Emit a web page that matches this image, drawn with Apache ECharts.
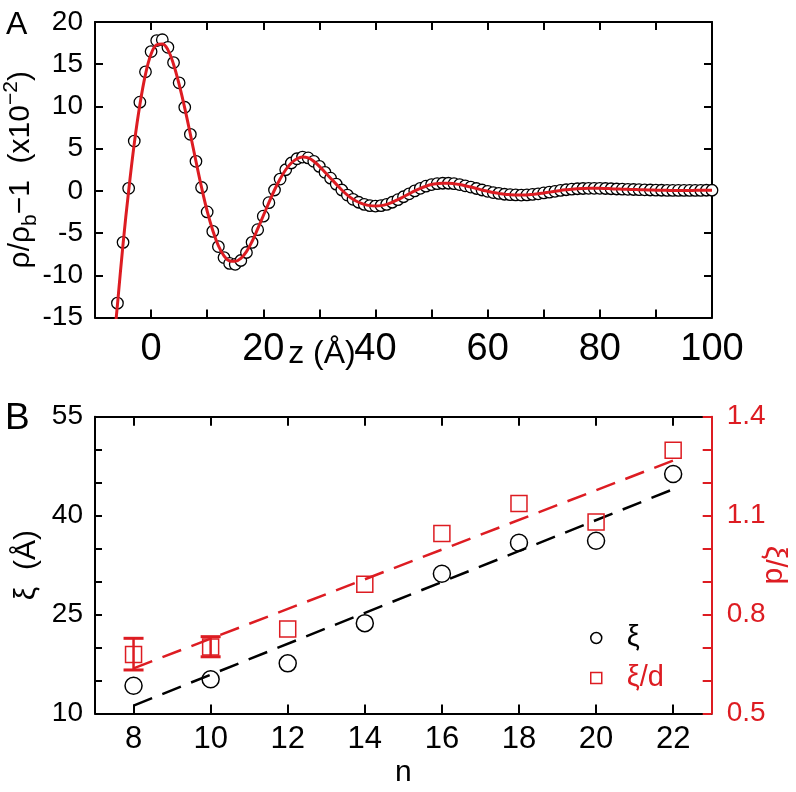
<!DOCTYPE html>
<html><head><meta charset="utf-8">
<script src="https://cdn.jsdelivr.net/npm/echarts@6/dist/echarts.min.js"></script>
<style>html,body{margin:0;padding:0;background:#fff}#c{width:796px;height:792px}</style>
</head><body><div id="c"></div><script>
// ---------- Panel A data ----------
const zA = [-6,-5,-4,-3,-2,-1,0,1,2,3,4,5,6,7,8,9,10,11,12,13,14,15,16,17,18,19,20,21,22,23,24,25,26,27,28,29,30,31,32,33,34,35,36,37,38,39,40,41,42,43,44,45,46,47,48,49,50,51,52,53,54,55,56,57,58,59,60,61,62,63,64,65,66,67,68,69,70,71,72,73,74,75,76,77,78,79,80,81,82,83,84,85,86,87,88,89,90,91,92,93,94,95,96,97,98,99,100];
const rhoA = [-13.3,-6.1,0.3,5.9,10.5,14.1,16.5,17.8,17.9,17.0,15.2,12.8,9.9,6.7,3.5,0.4,-2.5,-4.8,-6.6,-7.9,-8.6,-8.7,-8.25,-7.3,-6.1,-4.6,-3.0,-1.4,0.1,1.4,2.5,3.3,3.8,4.0,3.9,3.5,2.9,2.2,1.5,0.8,0.1,-0.5,-1.0,-1.35,-1.6,-1.75,-1.8,-1.75,-1.6,-1.35,-1.05,-0.7,-0.35,0.0,0.3,0.55,0.75,0.85,0.9,0.9,0.85,0.75,0.6,0.45,0.28,0.1,-0.05,-0.2,-0.3,-0.4,-0.45,-0.48,-0.5,-0.48,-0.42,-0.35,-0.25,-0.15,-0.05,0.05,0.13,0.2,0.25,0.28,0.3,0.3,0.3,0.28,0.25,0.22,0.2,0.18,0.16,0.14,0.12,0.1,0.08,0.07,0.06,0.05,0.05,0.05,0.05,0.06,0.06,0.07,0.07];
const fitZ = [-7,-6,-5,-4,-3,-2,-1,0,1,2,3,4,5,6,7,8,9,10,11,12,13,14,15,16,17,18,19,20,21,22,23,24,25,26,27,28,29,30,31,32,33,34,35,36,37,38,39,40,41,42,43,44,45,46,47,48,49,50,51,52,53,54,55,56,57,58,59,60,61,62,63,64,65,66,67,68,69,70,71,72,73,74,75,76,77,78,79,80,81,82,83,84,85,86,87,88,89,90,91,92,93,94,95,96,97,98,99,100];
const fitRho = [-20.5,-13.5,-6.3,0.0,5.6,10.2,13.8,16.2,17.3,17.4,16.7,15.0,12.6,9.8,6.7,3.5,0.4,-2.4,-4.7,-6.5,-7.7,-8.3,-8.35,-8.0,-7.2,-6.0,-4.5,-2.95,-1.4,0.1,1.4,2.5,3.3,3.8,4.0,3.9,3.5,2.9,2.2,1.5,0.8,0.1,-0.5,-1.0,-1.35,-1.6,-1.75,-1.8,-1.75,-1.6,-1.35,-1.05,-0.7,-0.35,0.0,0.3,0.55,0.75,0.85,0.9,0.9,0.85,0.75,0.6,0.45,0.28,0.1,-0.05,-0.2,-0.3,-0.4,-0.45,-0.48,-0.5,-0.48,-0.42,-0.35,-0.25,-0.15,-0.05,0.05,0.13,0.2,0.25,0.28,0.3,0.3,0.3,0.28,0.25,0.22,0.2,0.18,0.16,0.14,0.12,0.1,0.08,0.07,0.06,0.05,0.05,0.05,0.05,0.06,0.06,0.07,0.07];

// ---------- Panel B data ----------
const nB = [8,10,12,14,16,18,20,22];
const xiB = [14.2,15.2,17.6,23.7,31.2,35.9,36.2,46.3];
const xidB = [0.679,0.702,0.756,0.892,1.046,1.137,1.081,1.298];
const errN = [8,10];
const errLow = [0.632,0.672];
const errHigh = [0.728,0.733];
const fitN = [8,22];
const fitXi = [11.2,44.0];
const fitXid = [0.637,1.267];
const xTicksB = [8,10,12,14,16,18,20,22];
const yRightTicksB = [0.5,0.6,0.7,0.8,0.9,1.0,1.1,1.2,1.3,1.4];
const yRightLabelsB = [0.5,0.8,1.1,1.4];

const RED = '#dd1c22';
const FONT = 'Liberation Sans';
const pair = (xs, ys) => xs.map((x, i) => [x, ys[i]]);

const chart = echarts.init(document.getElementById('c'), null, {renderer: 'canvas'});

const axLine = (c) => ({show: true, onZero: false, lineStyle: {color: c || '#000', width: 2}});
const tickIn = (len, c) => ({show: true, inside: true, length: len, lineStyle: {color: c || '#000', width: 2}});

const option = {
  animation: false,
  backgroundColor: '#fff',
  grid: [
    {left: 95, top: 22, width: 617, height: 295.5, outerBoundsMode: 'none'},
    {left: 95, top: 416.7, width: 616.7, height: 296.8, outerBoundsMode: 'none'}
  ],
  graphic: [
    {type: 'text', left: 6, top: 9, style: {text: 'A', font: '32px ' + FONT, fill: '#000'}},
    {type: 'text', left: 5, top: 400, style: {text: 'B', font: '37px ' + FONT, fill: '#000'}}
  ],
  xAxis: [
    {gridIndex: 0, type: 'value', position: 'bottom', min: -10, max: 100, interval: 10,
     axisLine: axLine(), axisTick: tickIn(8), splitLine: {show: false},
     axisLabel: {formatter: v => (v % 20 === 0 ? String(v) : ''), fontFamily: FONT, fontSize: 38, color: '#000', margin: 13},
     name: 'z (Å)', nameLocation: 'middle', nameGap: 21, nameMoveOverlap: false,
     nameTextStyle: {fontFamily: FONT, fontSize: 32, color: '#000', padding: [0, 163, 0, 0]}},
    {gridIndex: 0, type: 'value', position: 'top', min: -10, max: 100, interval: 10,
     axisLine: axLine(), axisTick: tickIn(8), axisLabel: {show: false}, splitLine: {show: false}},
    {gridIndex: 1, type: 'value', position: 'bottom', min: 7, max: 23,
     axisLine: axLine(), axisTick: Object.assign(tickIn(9), {customValues: xTicksB}), splitLine: {show: false},
     axisLabel: {customValues: xTicksB, fontFamily: FONT, fontSize: 31, color: '#000', margin: 10},
     name: 'n', nameLocation: 'middle', nameGap: 44, nameMoveOverlap: false,
     nameTextStyle: {fontFamily: FONT, fontSize: 30, color: '#000'}},
    {gridIndex: 1, type: 'value', position: 'top', min: 7, max: 23,
     axisLine: axLine(), axisTick: Object.assign(tickIn(9), {customValues: xTicksB}),
     axisLabel: {show: false}, splitLine: {show: false}}
  ],
  yAxis: [
    {gridIndex: 0, type: 'value', position: 'left', min: -15, max: 20, interval: 5,
     axisLine: axLine(), axisTick: tickIn(8), splitLine: {show: false},
     axisLabel: {fontFamily: FONT, fontSize: 28, color: '#000', margin: 12},
     name: '{t|ρ/ρ}{s|b}{t|−1  (x10}{p|−2}{t|)}', nameLocation: 'middle', nameGap: 54, nameMoveOverlap: false,
     nameTextStyle: {color: '#000', rich: {
       t: {fontFamily: FONT, fontSize: 30, lineHeight: 40, color: '#000'},
       s: {fontFamily: FONT, fontSize: 21, color: '#000', verticalAlign: 'bottom'},
       p: {fontFamily: FONT, fontSize: 21, color: '#000', verticalAlign: 'top'}
     }}},
    {gridIndex: 0, type: 'value', position: 'right', min: -15, max: 20, interval: 5,
     axisLine: axLine(), axisTick: tickIn(8), axisLabel: {show: false}, splitLine: {show: false}},
    {gridIndex: 1, type: 'value', position: 'left', min: 10, max: 55, interval: 5,
     axisLine: axLine(), axisTick: tickIn(7), splitLine: {show: false},
     axisLabel: {formatter: v => ((v - 10) % 15 === 0 ? String(v) : ''), fontFamily: FONT, fontSize: 28, color: '#000', margin: 12},
     name: 'ξ  (Å)', nameLocation: 'middle', nameGap: 53, nameMoveOverlap: false,
     nameTextStyle: {fontFamily: FONT, fontSize: 30, color: '#000'}},
    {gridIndex: 1, type: 'value', position: 'right', min: 0.5, max: 1.4, z: 5,
     axisLine: axLine(RED), axisTick: Object.assign(tickIn(9, RED), {customValues: yRightTicksB}), splitLine: {show: false},
     axisLabel: {customValues: yRightLabelsB, formatter: v => Number(v).toFixed(1), fontFamily: FONT, fontSize: 28, color: RED, margin: 15},
     name: 'ξ/d', nameLocation: 'middle', nameGap: 48, nameRotate: -90, nameMoveOverlap: false,
     nameTextStyle: {fontFamily: FONT, fontSize: 30, color: RED}}
  ],
  legend: [
    {data: [{name: 'ξ', textStyle: {color: '#000'}}], left: 585, top: 618, orient: 'vertical',
     icon: 'circle', itemWidth: 11, itemHeight: 11, selectedMode: false,
     itemStyle: {color: 'transparent', borderColor: '#000', borderWidth: 1.5},
     textStyle: {fontFamily: FONT, fontSize: 29, lineHeight: 30, padding: [0, 0, 0, 20]}},
    {data: [{name: 'ξ/d', textStyle: {color: RED}}], left: 585, top: 658, orient: 'vertical',
     icon: 'rect', itemWidth: 11, itemHeight: 11, selectedMode: false,
     itemStyle: {color: 'transparent', borderColor: RED, borderWidth: 1.5},
     textStyle: {fontFamily: FONT, fontSize: 29, lineHeight: 30, padding: [0, 0, 0, 20]}}
  ],
  series: [
    {name: 'data A', type: 'scatter', xAxisIndex: 0, yAxisIndex: 0, data: pair(zA, rhoA),
     symbol: 'circle', symbolSize: 11.5, z: 2,
     itemStyle: {color: '#fff', borderColor: '#000', borderWidth: 1.3, opacity: 1}},
    {name: 'fit A', type: 'line', xAxisIndex: 0, yAxisIndex: 0, data: pair(fitZ, fitRho),
     showSymbol: false, smooth: 0.4, clip: true, z: 3,
     lineStyle: {color: RED, width: 3}},
    {name: 'fit ξ', type: 'line', xAxisIndex: 2, yAxisIndex: 2, data: pair(fitN, fitXi),
     showSymbol: false, z: 2, lineStyle: {color: '#000', width: 2.5, type: [20, 11]}},
    {name: 'fit ξ/d', type: 'line', xAxisIndex: 2, yAxisIndex: 3, data: pair(fitN, fitXid),
     showSymbol: false, z: 2, lineStyle: {color: RED, width: 2.5, type: [20, 11]}},
    {name: 'ξ', type: 'scatter', xAxisIndex: 2, yAxisIndex: 2, data: pair(nB, xiB),
     symbol: 'circle', symbolSize: 17, z: 3,
     itemStyle: {color: 'transparent', borderColor: '#000', borderWidth: 1.5, opacity: 1}},
    {name: 'ξ/d', type: 'scatter', xAxisIndex: 2, yAxisIndex: 3, data: pair(nB, xidB),
     symbol: 'rect', symbolSize: 16, z: 3,
     itemStyle: {color: 'transparent', borderColor: RED, borderWidth: 1.5, opacity: 1}},
    {name: 'err', type: 'custom', xAxisIndex: 2, yAxisIndex: 3,
     data: errN.map((n, i) => [n, errLow[i], errHigh[i]]), z: 4,
     renderItem: function (params, api) {
       const p1 = api.coord([api.value(0), api.value(1)]);
       const p2 = api.coord([api.value(0), api.value(2)]);
       const w = 10;
       const st = {stroke: RED, lineWidth: 3};
       return {type: 'group', children: [
         {type: 'line', shape: {x1: p1[0], y1: p1[1], x2: p2[0], y2: p2[1]}, style: {stroke: RED, lineWidth: 2.5}},
         {type: 'line', shape: {x1: p1[0] - w, y1: p1[1], x2: p1[0] + w, y2: p1[1]}, style: st},
         {type: 'line', shape: {x1: p2[0] - w, y1: p2[1], x2: p2[0] + w, y2: p2[1]}, style: st}
       ]};
     }}
  ]
};
chart.setOption(option);
</script></body></html>
